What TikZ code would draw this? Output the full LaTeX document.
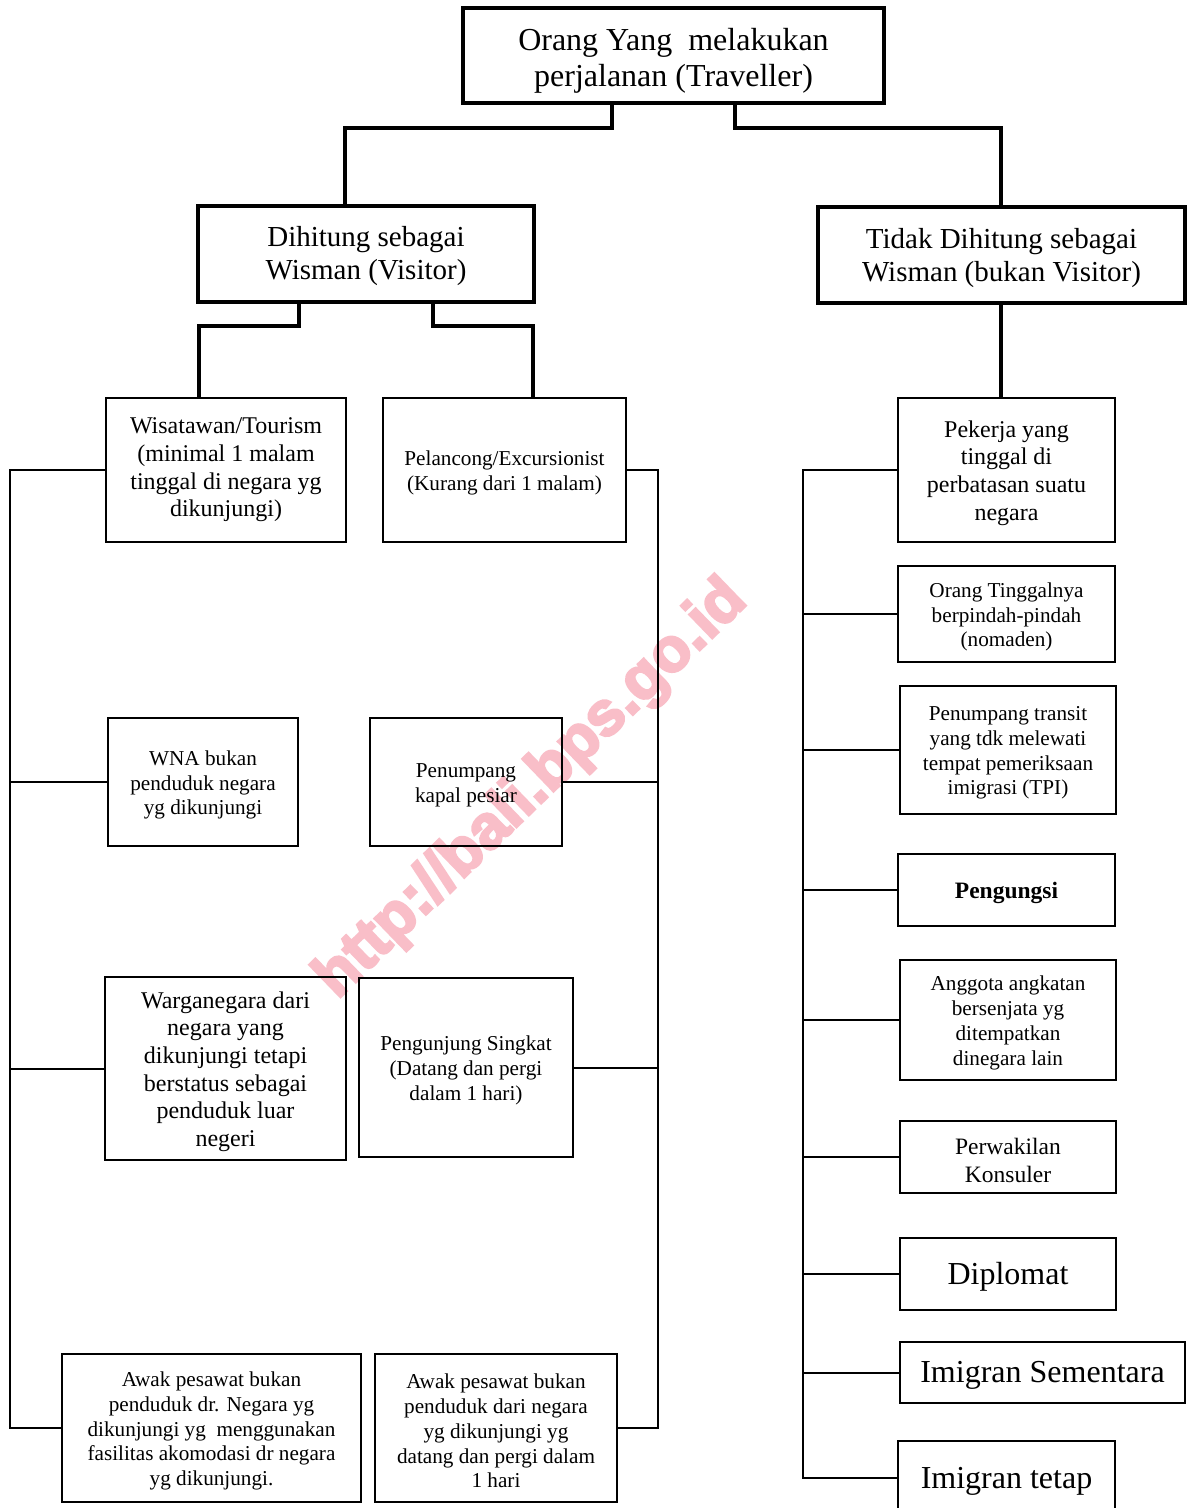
\documentclass[tikz,border=0pt]{standalone}
\usepackage{fontspec}
\setmainfont{Liberation Serif}
\newfontfamily\wmfont{Liberation Sans Bold}[FakeBold=4]
\definecolor{wmpink}{RGB}{249,190,200}
% box with separately placed text: #1 box style, #2 font style, #3 name, #4 x, #5 y, #6 w, #7 h, #8 text shift, #9 text
\newcommand\boxtxt[9]{%
  \node[#1, minimum width=#6, minimum height=#7] (#3) at (#4,#5) {};
  \node[txt, #2] (#3t) at ([yshift=-#8pt]#3.center) {#9};}
\begin{document}
\begin{tikzpicture}[x=1pt,y=-1pt,
  bx/.style={draw, line width=2pt, inner sep=0pt, outer sep=0pt, anchor=north west},
  bxt/.style={bx, line width=3.4pt},
  txt/.style={inner sep=0pt, align=center},
  fA/.style={font=\fontsize{32}{36}\selectfont},
  fB/.style={font=\fontsize{29}{33.5}\selectfont},
  fC/.style={font=\fontsize{24}{27.6}\selectfont},
  fD/.style={font=\fontsize{21.2}{24.8}\selectfont},
  fE/.style={font=\fontsize{23.5}{28}\selectfont},
  fEb/.style={font=\fontsize{23.5}{28}\selectfont\bfseries},
  ln/.style={line width=2pt, line join=miter},
  lnt/.style={line width=3.4pt, line join=miter},
]
\clip (0,0) rectangle (1190,1508);
\fill[white] (0,0) rectangle (1190,1508);
% watermark
\node[rotate=44, text=wmpink, font=\wmfont\fontsize{62}{62}\selectfont, inner sep=0pt] (wm) at (532,790) {http://bali.bps.go.id};

% top level
\boxtxt{bxt}{fA}{top}{463}{8}{421}{95}{5}{Orang Yang\ \ melakukan\\perjalanan (Traveller)}
\boxtxt{bxt}{fB}{dih}{198}{206}{336}{96}{2}{Dihitung sebagai\\Wisman (Visitor)}
\boxtxt{bxt}{fB}{tid}{818}{207}{367}{96}{3}{Tidak Dihitung sebagai\\Wisman (bukan Visitor)}

% visitor side
\boxtxt{bx}{fC}{wis}{106}{398}{240}{144}{0}{Wisatawan/Tourism\\(minimal 1 malam\\tinggal di negara yg\\dikunjungi)}
\boxtxt{bx}{fD}{pel}{383}{398}{243}{144}{3}{Pelancong/Excursionist\\(Kurang dari 1 malam)}
\boxtxt{bx}{fD}{wna}{108}{718}{190}{128}{3}{WNA bukan\\penduduk negara\\yg dikunjungi}
\boxtxt{bx}{fD}{pkp}{370}{718}{192}{128}{3}{Penumpang\\kapal pesiar}
\boxtxt{bx}{fC}{wrg}{105}{977}{241}{183}{3}{Warganegara dari\\negara yang\\dikunjungi tetapi\\berstatus sebagai\\penduduk luar\\negeri}
\boxtxt{bx}{fD}{pgs}{359}{978}{214}{179}{3}{Pengunjung Singkat\\(Datang dan pergi\\dalam 1 hari)}
\boxtxt{bx}{fD}{aw1}{62}{1354}{299}{148}{3}{Awak pesawat bukan\\penduduk dr. Negara yg\\dikunjungi yg\ \ menggunakan\\fasilitas akomodasi dr negara\\yg dikunjungi.}
\boxtxt{bx}{fD}{aw2}{375}{1354}{242}{148}{3}{Awak pesawat bukan\\penduduk dari negara\\yg dikunjungi yg\\datang dan pergi dalam\\1 hari}

% non-visitor side
\boxtxt{bx}{fC}{pek}{898}{398}{217}{144}{3}{Pekerja yang\\tinggal di\\perbatasan suatu\\negara}
\boxtxt{bx}{fD}{ort}{898}{566}{217}{96}{3}{Orang Tinggalnya\\berpindah-pindah\\(nomaden)}
\boxtxt{bx}{fD}{trn}{900}{686}{216}{128}{3}{Penumpang transit\\yang tdk melewati\\tempat pemeriksaan\\imigrasi (TPI)}
\boxtxt{bx}{fEb}{pgu}{898}{854}{217}{72}{3}{Pengungsi}
\boxtxt{bx}{fD}{ang}{900}{960}{216}{120}{3}{Anggota angkatan\\bersenjata yg\\ditempatkan\\dinegara lain}
\boxtxt{bx}{fE}{prw}{900}{1121}{216}{72}{3}{Perwakilan\\Konsuler}
\boxtxt{bx}{fA}{dip}{900}{1238}{216}{72}{3}{Diplomat}
\boxtxt{bx}{fA}{sem}{900}{1342}{285}{61}{3}{Imigran Sementara}
\boxtxt{bx}{fA}{tet}{898}{1441}{217}{74}{3}{Imigran tetap}

% thick connectors
\draw[lnt] (612,0 |- top.south) -- (612,128) -- (345,128) -- (345,0 |- dih.north);
\draw[lnt] (735,0 |- top.south) -- (735,128) -- (1001,128) -- (1001,0 |- tid.north);
\draw[lnt] (299,0 |- dih.south) -- (299,326) -- (199,326) -- (199,0 |- wis.north);
\draw[lnt] (433,0 |- dih.south) -- (433,326) -- (533,326) -- (533,0 |- pel.north);
\draw[lnt] (1001,0 |- tid.south) -- (1001,0 |- pek.north);

% left bus
\draw[ln] (wis.west) -- (10,0 |- wis.west) -- (10,0 |- aw1.west) -- (aw1.west);
\draw[ln] (wna.west) -- (10,0 |- wna.west);
\draw[ln] (wrg.west) -- (10,0 |- wrg.west);

% middle bus
\draw[ln] (pel.east) -- (658,0 |- pel.east) -- (658,0 |- aw2.east) -- (aw2.east);
\draw[ln] (pkp.east) -- (658,0 |- pkp.east);
\draw[ln] (pgs.east) -- (658,0 |- pgs.east);

% right bus
\draw[ln] (pek.west) -- (803,0 |- pek.west) -- (803,0 |- tet.west) -- (tet.west);
\draw[ln] (ort.west) -- (803,0 |- ort.west);
\draw[ln] (trn.west) -- (803,0 |- trn.west);
\draw[ln] (pgu.west) -- (803,0 |- pgu.west);
\draw[ln] (ang.west) -- (803,0 |- ang.west);
\draw[ln] (prw.west) -- (803,0 |- prw.west);
\draw[ln] (dip.west) -- (803,0 |- dip.west);
\draw[ln] (sem.west) -- (803,0 |- sem.west);
\end{tikzpicture}
\end{document}
